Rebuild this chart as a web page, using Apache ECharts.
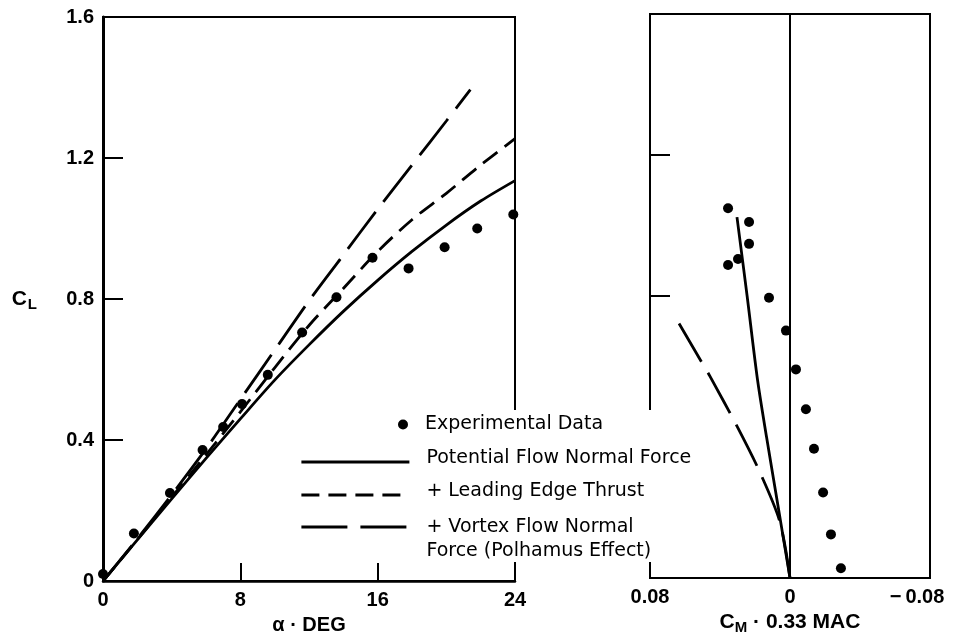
<!DOCTYPE html>
<html>
<head>
<meta charset="utf-8">
<script src="https://cdn.jsdelivr.net/npm/echarts@6/dist/echarts.min.js"></script>
<style>
  html, body { margin: 0; padding: 0; background: #fff; }
  #chart { width: 958px; height: 640px; }
</style>
</head>
<body>
<div id="chart"></div>
<script>
// ---- Lift curve: C_L versus angle of attack (deg) ----
const alphaExp = [0, 1.8, 3.9, 5.8, 7.0, 8.1, 9.6, 11.6, 13.6, 15.7, 17.8, 19.9, 21.8, 23.9];
const clExp    = [0.02, 0.135, 0.25, 0.372, 0.437, 0.502, 0.585, 0.705, 0.805, 0.917, 0.887, 0.947, 1.0, 1.04];

const alphaCurve   = [0, 2, 4, 6, 8, 10, 12, 14, 16, 18, 20, 22, 24];
const clPotential  = [0, 0.117, 0.233, 0.348, 0.46, 0.57, 0.67, 0.765, 0.853, 0.935, 1.01, 1.078, 1.136];
const clThrust     = [0, 0.118, 0.238, 0.358, 0.48, 0.605, 0.725, 0.83, 0.935, 1.025, 1.10, 1.18, 1.255];

const alphaVortex  = [0, 2, 4, 6, 8, 10, 12, 14, 16, 18, 20, 21.4];
const clVortex     = [0, 0.12, 0.245, 0.375, 0.515, 0.655, 0.795, 0.925, 1.055, 1.18, 1.305, 1.394];

// ---- Pitching moment about 0.33 MAC: C_L versus C_M ----
const cmExp   = [0.0354, 0.0234, 0.0234, 0.0297, 0.0354, 0.012, 0.0023, -0.0034, -0.0091, -0.0137, -0.0189, -0.0234, -0.0291];
const clExpM  = [1.049, 1.01, 0.948, 0.905, 0.888, 0.795, 0.702, 0.592, 0.479, 0.367, 0.243, 0.124, 0.028];

const cmPotential  = [0, 0.0067, 0.0134, 0.0186, 0.0245, 0.0303];
const clPotentialM = [0, 0.2, 0.4, 0.564, 0.8, 1.024];

const cmVortex  = [0, 0.0057, 0.0171, 0.0303, 0.0457, 0.0497, 0.0634];
const clVortexM = [0, 0.158, 0.299, 0.431, 0.572, 0.606, 0.722];

// ---- Tick settings ----
const alphaTicks = { min: 0, max: 24, interval: 8 };
const clTicks    = { min: 0, max: 1.6, interval: 0.4 };
const cmTicks    = { min: -0.08, max: 0.08, interval: 0.08 };

// ---- Series names ----
const NAME_EXP = 'Experimental Data';
const NAME_POT = 'Potential Flow Normal Force';
const NAME_LET = '+ Leading Edge Thrust';
const NAME_VTX = '+ Vortex Flow Normal\nForce (Polhamus Effect)';

const pairs = (xs, ys) => xs.map((x, i) => [x, ys[i]]);

const AXIS_FONT = 'Liberation Sans';
const LEGEND_FONT = 'DejaVu Sans';
const BLACK = '#000';
const LINE_W = 2.8;
const DASH_SHORT = [18, 9];
const DASH_LONG = [46, 13];

const tickLabel = { color: BLACK, fontFamily: AXIS_FONT, fontWeight: 'bold', fontSize: 20 };
const legendFont = { color: BLACK, fontFamily: LEGEND_FONT, fontSize: 19 };
const hiddenSymbol = { opacity: 0, color: 'transparent', borderWidth: 0 };

const cmLabel = v => {
  if (v === 0) return '0';
  if (v < 0) return '{neg|\u2212\u2009' + Math.abs(v).toFixed(2) + '}';
  return v.toFixed(2);
};

const chart = echarts.init(document.getElementById('chart'), null, { renderer: 'canvas' });

chart.setOption({
  animation: false,
  backgroundColor: '#fff',
  grid: [
    { left: 103, top: 17, width: 412, height: 568, show: true, borderColor: BLACK, borderWidth: 2, backgroundColor: 'transparent' },
    { left: 650, top: 14, width: 280, height: 568, show: true, borderColor: BLACK, borderWidth: 2, backgroundColor: 'transparent' }
  ],
  xAxis: [
    {
      type: 'value', gridIndex: 0, ...alphaTicks,
      axisLine: { show: true, onZero: false, lineStyle: { color: BLACK, width: 2.5 } },
      axisTick: { show: true, inside: true, length: 18, lineStyle: { color: BLACK, width: 2 } },
      axisLabel: { ...tickLabel, margin: 9 },
      splitLine: { show: false },
      name: 'α · DEG', nameLocation: 'middle', nameGap: 29,
      nameTextStyle: { color: BLACK, fontFamily: AXIS_FONT, fontWeight: 'bold', fontSize: 20 }
    },
    {
      type: 'value', gridIndex: 1, ...cmTicks, inverse: true,
      axisLine: { show: true, onZero: false, lineStyle: { color: BLACK, width: 2 } },
      axisTick: { show: false },
      axisLabel: {
        ...tickLabel, margin: 9, formatter: cmLabel,
        rich: { neg: { ...tickLabel, padding: [0, 26, 0, 0] } }
      },
      splitLine: { show: false },
      name: '{c|C}{s|M}{t| \u00b7 0.33 MAC}', nameLocation: 'middle', nameGap: 29,
      nameTextStyle: {
        rich: {
          c: { color: BLACK, fontFamily: AXIS_FONT, fontWeight: 'bold', fontSize: 21 },
          s: { color: BLACK, fontFamily: AXIS_FONT, fontWeight: 'bold', fontSize: 15, padding: [10, 0, 0, 0] },
          t: { color: BLACK, fontFamily: AXIS_FONT, fontWeight: 'bold', fontSize: 21 }
        }
      }
    }
  ],
  yAxis: [
    {
      type: 'value', gridIndex: 0, ...clTicks,
      axisLine: { show: true, onZero: false, lineStyle: { color: BLACK, width: 3 } },
      axisTick: { show: true, inside: true, length: 20, lineStyle: { color: BLACK, width: 2 } },
      axisLabel: { ...tickLabel, margin: 9 },
      splitLine: { show: false },
      name: '{c|C}{s|L}', nameLocation: 'middle', nameGap: 66, nameRotate: 0,
      nameTextStyle: {
        rich: {
          c: { color: BLACK, fontFamily: AXIS_FONT, fontWeight: 'bold', fontSize: 21 },
          s: { color: BLACK, fontFamily: AXIS_FONT, fontWeight: 'bold', fontSize: 15, padding: [12, 0, 0, 1] }
        }
      }
    },
    {
      type: 'value', gridIndex: 1, ...clTicks,
      axisLine: { show: true, onZero: false, lineStyle: { color: BLACK, width: 2 } },
      axisTick: { show: true, inside: true, length: 20, lineStyle: { color: BLACK, width: 2 } },
      axisLabel: { show: false },
      splitLine: { show: false }
    }
  ],
  legend: [
    {
      data: [NAME_EXP], orient: 'vertical', left: 398, top: 415, padding: 0,
      itemWidth: 10, itemHeight: 10, selectedMode: false, z: 20,
      textStyle: { ...legendFont, padding: [0, 0, 0, 12] }
    },
    {
      data: [
        { name: NAME_POT, lineStyle: { type: 'solid', width: LINE_W, color: BLACK }, itemStyle: hiddenSymbol },
        { name: NAME_LET, lineStyle: { type: DASH_SHORT, width: LINE_W, color: BLACK }, itemStyle: hiddenSymbol }
      ],
      orient: 'vertical', left: 300, top: 449, padding: 0, itemGap: 7,
      itemWidth: 108, itemHeight: 10, selectedMode: false, z: 20,
      formatter: name => '{a|' + name + '}',
      textStyle: {
        ...legendFont,
        rich: { a: { ...legendFont, lineHeight: 20, padding: [0, 0, 7, 12] } }
      }
    },
    {
      data: [
        { name: NAME_VTX, lineStyle: { type: DASH_LONG, width: LINE_W, color: BLACK }, itemStyle: hiddenSymbol }
      ],
      orient: 'vertical', left: 300, top: 491, padding: 0,
      itemWidth: 108, itemHeight: 10, selectedMode: false, z: 20,
      // leading blank line puts the first text line level with the icon
      formatter: name => '\n' + name,
      textStyle: { ...legendFont, lineHeight: 24, padding: [0, 0, 0, 12] }
    }
  ],
  graphic: [
    {
      type: 'rect', z: 10, silent: true,
      shape: { x: 262, y: 410, width: 446, height: 152 },
      style: { fill: '#fff' }
    }
  ],
  series: [
    // lift curve panel
    {
      type: 'scatter', name: NAME_EXP, xAxisIndex: 0, yAxisIndex: 0,
      data: pairs(alphaExp, clExp), symbol: 'circle', symbolSize: 10,
      itemStyle: { color: BLACK, opacity: 1 }, z: 5
    },
    {
      type: 'line', name: NAME_POT, xAxisIndex: 0, yAxisIndex: 0,
      data: pairs(alphaCurve, clPotential), smooth: 0.3, symbol: 'none',
      lineStyle: { color: BLACK, width: LINE_W, type: 'solid' }, itemStyle: { color: BLACK }
    },
    {
      type: 'line', name: NAME_LET, xAxisIndex: 0, yAxisIndex: 0,
      data: pairs(alphaCurve, clThrust), smooth: 0.3, symbol: 'none',
      lineStyle: { color: BLACK, width: LINE_W, type: DASH_SHORT }, itemStyle: { color: BLACK }
    },
    {
      type: 'line', name: NAME_VTX, xAxisIndex: 0, yAxisIndex: 0,
      data: pairs(alphaVortex, clVortex), smooth: 0.3, symbol: 'none',
      lineStyle: { color: BLACK, width: LINE_W, type: DASH_LONG }, itemStyle: { color: BLACK }
    },
    // pitching moment panel
    {
      type: 'scatter', name: NAME_EXP, xAxisIndex: 1, yAxisIndex: 1,
      data: pairs(cmExp, clExpM), symbol: 'circle', symbolSize: 10,
      itemStyle: { color: BLACK, opacity: 1 }, z: 5,
      markLine: {
        silent: true, symbol: 'none', label: { show: false },
        lineStyle: { color: BLACK, width: 2, type: 'solid' },
        data: [{ xAxis: 0 }]
      }
    },
    {
      type: 'line', name: NAME_POT, xAxisIndex: 1, yAxisIndex: 1,
      data: pairs(cmPotential, clPotentialM), smooth: 0.3, symbol: 'none',
      lineStyle: { color: BLACK, width: LINE_W, type: 'solid' }, itemStyle: { color: BLACK }
    },
    {
      type: 'line', name: NAME_VTX, xAxisIndex: 1, yAxisIndex: 1,
      data: pairs(cmVortex, clVortexM), smooth: 0.3, symbol: 'none',
      lineStyle: { color: BLACK, width: LINE_W, type: DASH_LONG }, itemStyle: { color: BLACK }
    }
  ]
});
</script>
</body>
</html>
